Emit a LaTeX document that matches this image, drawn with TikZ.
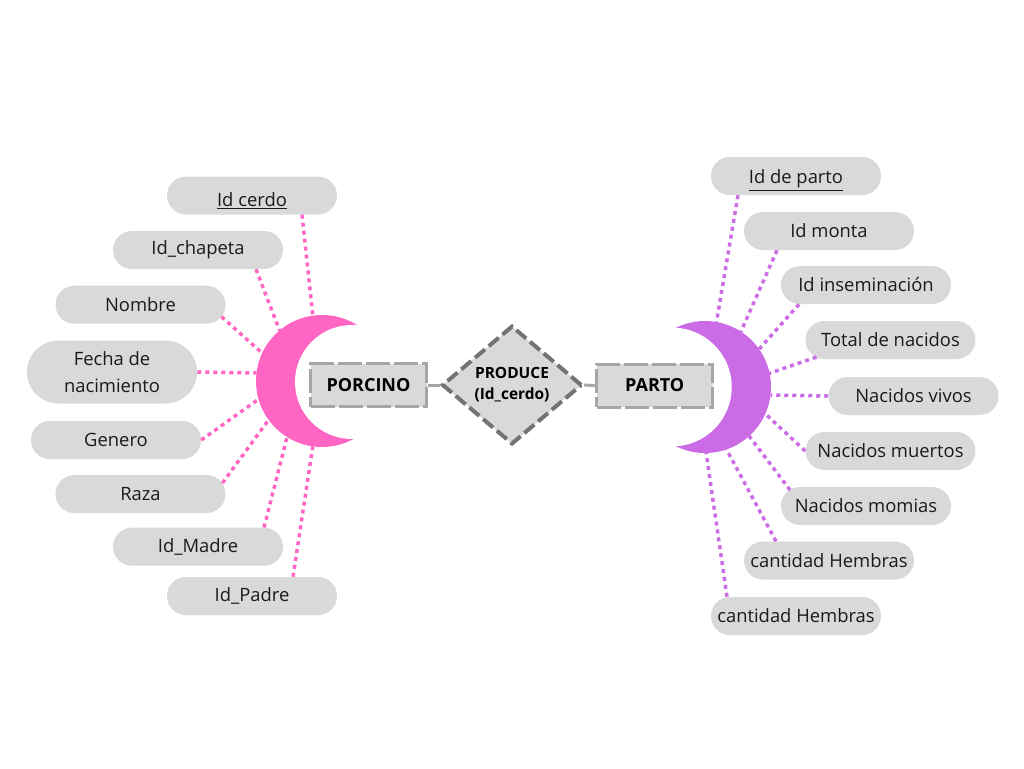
\documentclass[tikz,border=0pt]{standalone}
\usepackage{fontspec}
\setmainfont{Open Sans}
\usetikzlibrary{shapes.geometric,calc}
\definecolor{pillgray}{HTML}{D9D9D9}
\definecolor{pinkc}{HTML}{FF66C4}
\definecolor{purplec}{HTML}{CB6CE6}
\definecolor{boxborder}{HTML}{A6A6A6}
\definecolor{diaborder}{HTML}{737373}
\definecolor{txtc}{HTML}{1A1A1A}
\newcommand\ulinetxt[2]{\begingroup\setbox0\hbox{#2}\setbox1\hbox{\raisebox{#1}{\underline{#2}}}\ht1=\ht0 \dp1=\dp0 \box1\endgroup}
\begin{document}
\begin{tikzpicture}[x=0.75pt,y=-0.75pt,
  attrpill/.style={rectangle, fill=pillgray, rounded corners=14.25pt, minimum width=127.5pt, minimum height=28.5pt, inner sep=0pt, font=\fontsize{13.8}{20}\selectfont, text=txtc, align=center},
  tallpill/.style={attrpill, minimum height=47.25pt, rounded corners=23.6pt},
  pinkdots/.style={pinkc, line width=2.6pt, dash pattern=on 3pt off 3pt},
  purpledots/.style={purplec, line width=2.6pt, dash pattern=on 3pt off 3pt},
  entbox/.style={rectangle, fill=pillgray, draw=boxborder, line width=2.25pt, dash pattern=on 18pt off 3pt, minimum width=87pt, minimum height=32.25pt, inner sep=0pt, font=\bfseries\fontsize{13.5}{16}\selectfont, text=black},
  relbox/.style={diamond, fill=pillgray, draw=diaborder, line width=3pt, dash pattern=on 9.75pt off 3.75pt, minimum width=105pt, minimum height=89pt, inner sep=0pt, align=center, font=\bfseries\fontsize{11.6}{15.75}\selectfont, text=black},
  joinline/.style={boxborder, line width=2.25pt},
  moonbody/.style={circle, minimum size=99pt, inner sep=0pt, outer sep=0pt},
  mooncut/.style={circle, fill=white, inner sep=0pt, outer sep=0pt}
]
\useasboundingbox[fill=white] (0,0) rectangle (1024,768);

% left attributes
\node[attrpill] (cerdo) at (252,195.5) {\ulinetxt{-3pt}{Id cerdo}};
\node[attrpill] (chapeta) at (198,250) {Id\_chapeta};
\node[attrpill] (nombre) at (140.5,304.7) {Nombre};
\node[tallpill] (fecha) at (112,372) {Fecha de\\nacimiento};
\node[attrpill] (genero) at (116,440) {Genero};
\node[attrpill] (raza) at (140.5,494) {Raza};
\node[attrpill] (madre) at (198,546.7) {Id\_Madre};
\node[attrpill] (padre) at (252,596) {Id\_Padre};

% right attributes
\node[attrpill] (partoid) at (796,176) {\ulinetxt{-2.2pt}{Id de parto}};
\node[attrpill] (monta) at (829,231) {Id monta};
\node[attrpill] (insem) at (866,285) {Id inseminación};
\node[attrpill] (total) at (890.5,340) {Total de nacidos};
\node[attrpill] (vivos) at (913.5,396) {Nacidos vivos};
\node[attrpill] (muertos) at (890.5,451) {Nacidos muertos};
\node[attrpill] (momias) at (866,506) {Nacidos momias};
\node[attrpill] (hembrasA) at (829,560.5) {cantidad Hembras};
\node[attrpill] (hembrasB) at (796,616) {cantidad Hembras};

% moons
\node[moonbody, fill=pinkc] (pm) at (322,381) {};
\node[mooncut, minimum size=85.5pt] (pmcut) at (352,382) {};
\node[moonbody, fill=purplec] (pr) at (705,387) {};
\node[mooncut, minimum size=89pt] (prcut) at (672.4,387) {};

% left dotted connectors
\draw[pinkdots] ($(cerdo.south)+(50,0)$) -- (pm.98.6);
\draw[pinkdots] ($(chapeta.south)+(58,0)$) -- (pm.130);
\draw[pinkdots] ($(nombre.center)+(81,12)$) -- (pm.155);
\draw[pinkdots] (fecha.east) -- (pm.173);
\draw[pinkdots] (genero.east) -- (pm.196.5);
\draw[pinkdots] ($(raza.center)+(82,-11)$) -- (pm.216);
\draw[pinkdots] ($(madre.north)+(66,0)$) -- (pm.238);
\draw[pinkdots] ($(padre.north)+(41,0)$) -- (pm.262.5);

% right dotted connectors
\draw[purpledots] ($(partoid.south)+(-58,0)$) -- (pr.80);
\draw[purpledots] ($(monta.south)+(-52,0)$) -- (pr.57.5);
\draw[purpledots] ($(insem.south)+(-67,0)$) -- (pr.35);
\draw[purpledots] ($(total.center)+(-74,17)$) -- (pr.12);
\draw[purpledots] (vivos.west) -- (pr.-7);
\draw[purpledots] (muertos.west) -- (pr.-24);
\draw[purpledots] ($(momias.center)+(-76,-16)$) -- (pr.-48);
\draw[purpledots] ($(hembrasA.north)+(-53,0)$) -- (pr.-71);
\draw[purpledots] ($(hembrasB.north)+(-69,0)$) -- (pr.-89);

% entities and relation
\node[entbox] (porcino) at (368.5,385) {PORCINO};
\node[entbox] (parto) at (654.7,385.5) {PARTO};
\node[relbox] (produce) at (512,385) {PRODUCE\\(Id\_cerdo)};
\draw[joinline] (porcino.east) -- (produce.west);
\draw[joinline] (produce.east) -- (parto.west);
\end{tikzpicture}
\end{document}
